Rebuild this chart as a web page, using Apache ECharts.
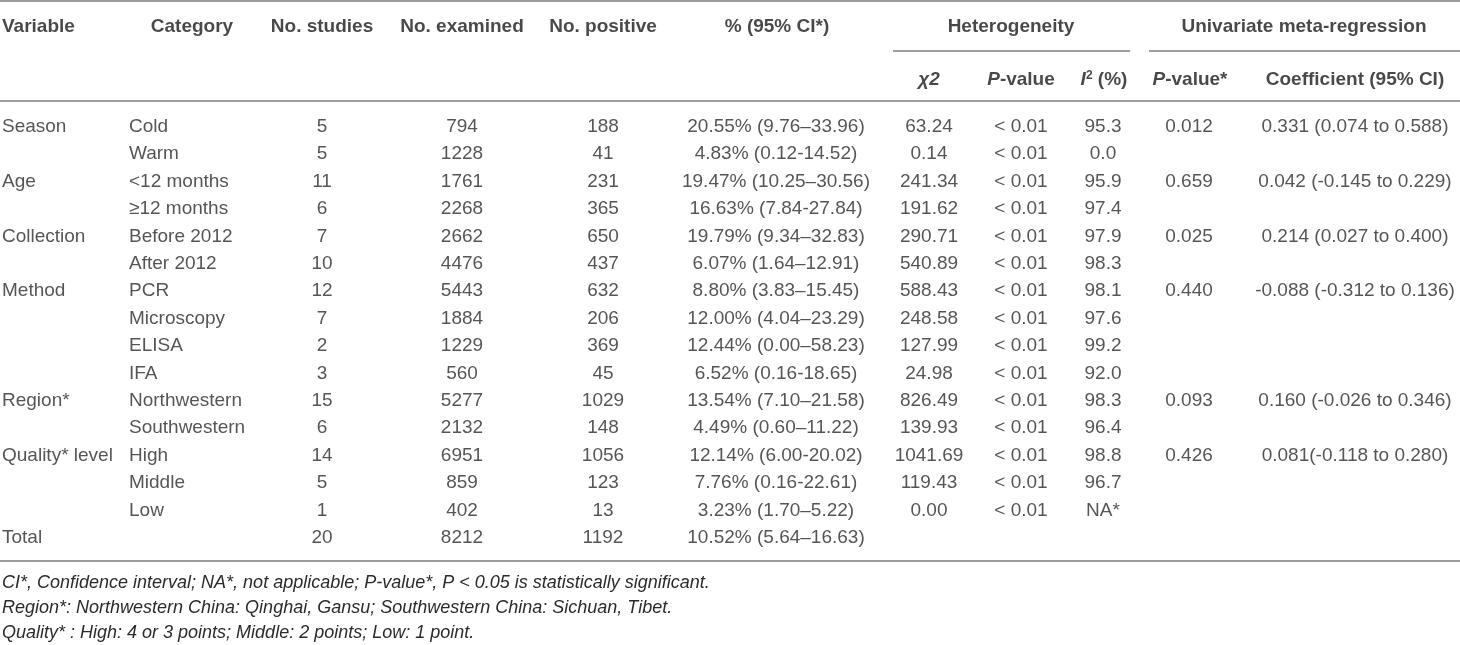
<!DOCTYPE html>
<html lang="en">
<head>
  <meta charset="UTF-8">
  <title>Meta-regression table</title>
  <style>
    body{
      margin: 0;
    }
    .chart{
      width: 1460px;
      height: 645px;
      background: white;
    }
  </style>
</head>
<body>
<div class="chart"></div>
<script src="https://cdn.jsdelivr.net/npm/echarts@6/dist/echarts.min.js"></script>
<script>
  // table content, one array per column
  const variables = ['Season', '', 'Age', '', 'Collection', '', 'Method', '', '', '', 'Region*', '', 'Quality* level', '', '', 'Total'];
  const categories = ['Cold', 'Warm', '<12 months', '≥12 months', 'Before 2012', 'After 2012', 'PCR', 'Microscopy', 'ELISA', 'IFA', 'Northwestern', 'Southwestern', 'High', 'Middle', 'Low', ''];
  const studies = [5, 5, 11, 6, 7, 10, 12, 7, 2, 3, 15, 6, 14, 5, 1, 20];
  const examined = [794, 1228, 1761, 2268, 2662, 4476, 5443, 1884, 1229, 560, 5277, 2132, 6951, 859, 402, 8212];
  const positive = [188, 41, 231, 365, 650, 437, 632, 206, 369, 45, 1029, 148, 1056, 123, 13, 1192];
  const percent = ['20.55% (9.76–33.96)', '4.83% (0.12-14.52)', '19.47% (10.25–30.56)', '16.63% (7.84-27.84)',
    '19.79% (9.34–32.83)', '6.07% (1.64–12.91)', '8.80% (3.83–15.45)', '12.00% (4.04–23.29)',
    '12.44% (0.00–58.23)', '6.52% (0.16-18.65)', '13.54% (7.10–21.58)', '4.49% (0.60–11.22)',
    '12.14% (6.00-20.02)', '7.76% (0.16-22.61)', '3.23% (1.70–5.22)', '10.52% (5.64–16.63)'];
  const chi2 = ['63.24', '0.14', '241.34', '191.62', '290.71', '540.89', '588.43', '248.58', '127.99', '24.98', '826.49', '139.93', '1041.69', '119.43', '0.00', ''];
  const hetP = ['< 0.01', '< 0.01', '< 0.01', '< 0.01', '< 0.01', '< 0.01', '< 0.01', '< 0.01', '< 0.01', '< 0.01', '< 0.01', '< 0.01', '< 0.01', '< 0.01', '< 0.01', ''];
  const i2 = ['95.3', '0.0', '95.9', '97.4', '97.9', '98.3', '98.1', '97.6', '99.2', '92.0', '98.3', '96.4', '98.8', '96.7', 'NA*', ''];
  const metaP = ['0.012', '', '0.659', '', '0.025', '', '0.440', '', '', '', '0.093', '', '0.426', '', '', ''];
  const coef = ['0.331 (0.074 to 0.588)', '', '0.042 (-0.145 to 0.229)', '', '0.214 (0.027 to 0.400)', '',
    '-0.088 (-0.312 to 0.136)', '', '', '', '0.160 (-0.026 to 0.346)', '', '0.081(-0.118 to 0.280)', '', '', ''];

  const headerTop = ['Variable', 'Category', 'No. studies', 'No. examined', 'No. positive', '% (95% CI*)'];
  const groupHeaders = ['Heterogeneity', 'Univariate meta-regression'];
  const subHeaders = ['{i|χ2}', '{i|P}{b|-value}', '{i|I}{sup|2}{b| (%)}', '{i|P}{b|-value*}', '{b|Coefficient (95% CI)}'];
  const footnotes = [
    'CI*, Confidence interval; NA*, not applicable; P-value*, P < 0.05 is statistically significant.',
    'Region*: Northwestern China: Qinghai, Gansu; Southwestern China: Sichuan, Tibet.',
    'Quality* : High: 4 or 3 points; Middle: 2 points; Low: 1 point.'
  ];

  const FONT = '"Liberation Sans", Arial, Helvetica, sans-serif';
  const rowIds = variables.map((v, i) => 'r' + i);

  // column layout: x position on the pixel-wide value axis + alignment
  const columns = [
    {values: variables, x: 2, align: 'left'},
    {values: categories, x: 129, align: 'left'},
    {values: studies, x: 322, align: 'center'},
    {values: examined, x: 462, align: 'center'},
    {values: positive, x: 603, align: 'center'},
    {values: percent, x: 776, align: 'center'},
    {values: chi2, x: 929, align: 'center'},
    {values: hetP, x: 1021, align: 'center'},
    {values: i2, x: 1103, align: 'center'},
    {values: metaP, x: 1189, align: 'center'},
    {values: coef, x: 1355, align: 'center'}
  ];
  const headerX = [{x: 2, align: 'left'}, {x: 192, align: 'center'}, {x: 322, align: 'center'},
    {x: 462, align: 'center'}, {x: 603, align: 'center'}, {x: 777, align: 'center'}];
  const groupX = [1011, 1304];
  const subX = [929, 1021, 1104, 1190, 1355];

  const hiddenAxis = {
    axisLine: {show: false}, axisTick: {show: false},
    axisLabel: {show: false}, splitLine: {show: false}
  };

  const bodySeries = columns.map((col) => ({
    type: 'scatter',
    xAxisIndex: 0,
    yAxisIndex: 0,
    symbolSize: 1,
    silent: true,
    itemStyle: {color: 'rgba(0,0,0,0)'},
    label: {
      show: true,
      position: 'inside',
      align: col.align,
      verticalAlign: 'middle',
      fontFamily: FONT,
      fontSize: 19,
      color: '#2b2b2b',
      formatter: (p) => p.value[2]
    },
    data: col.values.map((v, i) => [col.x, rowIds[i], String(v)])
  }));

  const headerRich = {
    b: {fontFamily: FONT, fontSize: 19, fontWeight: 'bold', color: '#1a1a1a'},
    i: {fontFamily: FONT, fontSize: 19, fontWeight: 'bold', fontStyle: 'italic', color: '#1a1a1a'},
    sup: {fontFamily: FONT, fontSize: 12, fontWeight: 'bold', color: '#1a1a1a', verticalAlign: 'top', padding: [0, 0, 8, 0]}
  };

  const headerData = [];
  headerTop.forEach((t, k) => {
    headerData.push({value: [headerX[k].x, 'h1', '{b|' + t + '}'], label: {align: headerX[k].align}});
  });
  groupHeaders.forEach((t, k) => {
    headerData.push({value: [groupX[k], 'h1', '{b|' + t + '}'], label: {align: 'center'}});
  });
  subHeaders.forEach((t, k) => {
    headerData.push({value: [subX[k], 'h2', t], label: {align: 'center'}});
  });

  const headerSeries = {
    type: 'scatter',
    xAxisIndex: 1,
    yAxisIndex: 1,
    symbolSize: 1,
    silent: true,
    itemStyle: {color: 'rgba(0,0,0,0)'},
    label: {
      show: true,
      position: 'inside',
      verticalAlign: 'middle',
      formatter: (p) => p.value[2],
      rich: headerRich
    },
    data: headerData
  };

  const rule = (x1, x2, y) => ({
    type: 'line',
    silent: true,
    shape: {x1: x1, y1: y, x2: x2, y2: y},
    style: {stroke: '#9d9d9d', lineWidth: 2}
  });

  const container = document.querySelector('.chart');
  const instance = echarts.init(container);
  const option = {
    animation: false,
    grid: [
      {left: 0, right: 0, top: 113, height: 438.4},
      {left: 0, right: 0, top: 0, height: 106}
    ],
    xAxis: [
      Object.assign({type: 'value', min: 0, max: 1460, gridIndex: 0}, hiddenAxis),
      Object.assign({type: 'value', min: 0, max: 1460, gridIndex: 1}, hiddenAxis)
    ],
    yAxis: [
      Object.assign({type: 'category', data: rowIds, inverse: true, gridIndex: 0}, hiddenAxis),
      Object.assign({type: 'category', data: ['h1', 'h2'], inverse: true, gridIndex: 1}, hiddenAxis)
    ],
    graphic: [
      rule(0, 1460, 1),
      rule(893, 1130, 51),
      rule(1149, 1460, 51),
      rule(0, 1460, 101),
      rule(0, 1460, 561)
    ].concat(footnotes.map((t, k) => ({
      type: 'text',
      silent: true,
      left: 2,
      top: 574 + k * 25,
      style: {
        text: t,
        fontFamily: FONT,
        fontSize: 18,
        fontStyle: 'italic',
        fill: '#2b2b2b'
      }
    }))),
    series: bodySeries.concat([headerSeries])
  };
  instance.setOption(option);
</script>
</body>
</html>
